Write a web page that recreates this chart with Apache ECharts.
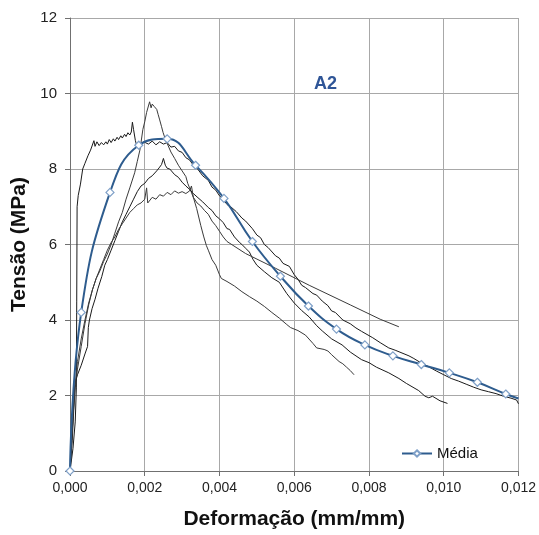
<!DOCTYPE html>
<html>
<head>
<meta charset="utf-8">
<script src="https://cdn.jsdelivr.net/npm/echarts@6/dist/echarts.min.js"></script>
<style>
  html, body { margin: 0; padding: 0; background: #fff; }
  #chart { width: 539px; height: 535px; }
</style>
</head>
<body>
<div id="chart"></div>
<script>
// Axis ticks
const xTicks = [0, 0.002, 0.004, 0.006, 0.008, 0.010, 0.012];
const yTicks = [0, 2, 4, 6, 8, 10, 12];

// Individual specimens: [strain (mm/mm), stress (MPa)]
const specimen1 = [[0,0],[0.00008,0.6],[0.00014,1.3],[0.00017,2.2],[0.00018,4.5],[0.00019,7.0],[0.00022,7.3],[0.00028,7.6],[0.00034,8.0],[0.0004,8.15],[0.00048,8.35],[0.00055,8.5],[0.0006,8.55],[0.00064,8.75],[0.00067,8.6],[0.00072,8.72],[0.00078,8.62],[0.00084,8.7],[0.0009,8.64],[0.00096,8.72],[0.001,8.66],[0.00105,8.78],[0.0011,8.7],[0.00116,8.8],[0.0012,8.74],[0.00126,8.84],[0.0013,8.78],[0.00136,8.88],[0.0014,8.82],[0.00146,8.92],[0.0015,8.86],[0.00155,8.96],[0.0016,8.9],[0.00164,8.98],[0.00167,9.24],[0.0017,9.05],[0.00175,8.75],[0.00179,8.6],[0.00185,8.68],[0.0019,8.62],[0.00197,8.72],[0.0021,8.66],[0.0022,8.74],[0.0023,8.64],[0.0024,8.72],[0.0025,8.66],[0.0026,8.7],[0.0027,8.58],[0.0028,8.6],[0.0029,8.48],[0.003,8.44],[0.0031,8.3],[0.0032,8.24],[0.0033,8.1],[0.0034,8.02],[0.00355,7.82],[0.0037,7.7],[0.0038,7.52],[0.0039,7.44],[0.004,7.29],[0.0041,7.2],[0.0042,7.06],[0.0043,7.0],[0.00445,6.87],[0.0046,6.7],[0.0047,6.62],[0.00488,6.42],[0.005,6.25],[0.0051,6.18],[0.0052,6.0],[0.0053,5.92],[0.0055,5.7],[0.0056,5.64],[0.0057,5.5],[0.00587,5.42],[0.006,5.2],[0.0061,5.08],[0.0062,4.92],[0.0063,4.86],[0.0065,4.7],[0.0066,4.66],[0.00675,4.5],[0.0069,4.38],[0.007,4.24],[0.0071,4.2],[0.0073,4.0],[0.0075,3.9],[0.00765,3.79],[0.0078,3.7],[0.0081,3.53],[0.0083,3.4],[0.00853,3.26],[0.0087,3.2],[0.00907,3.05],[0.0092,2.98],[0.0094,2.86],[0.0096,2.76],[0.0098,2.65],[0.01,2.55],[0.0102,2.45],[0.0104,2.38],[0.0106,2.3],[0.0108,2.22],[0.011,2.15],[0.0112,2.1],[0.0114,2.05],[0.0116,1.98],[0.0118,1.93],[0.01195,1.88],[0.012,1.78]];

const specimen2 = [[0,0],[0.00006,0.8],[0.0001,1.6],[0.00014,2.2],[0.0002,2.7],[0.0003,3.3],[0.0004,3.9],[0.0005,4.4],[0.0006,4.8],[0.0007,5.1],[0.0008,5.3],[0.0009,5.55],[0.001,5.75],[0.0011,6.0],[0.0012,6.3],[0.00125,6.35],[0.0013,6.6],[0.0014,6.85],[0.0015,7.2],[0.0016,7.5],[0.00173,7.9],[0.0018,8.2],[0.00187,8.5],[0.0019,8.7],[0.00195,9.05],[0.002,9.25],[0.00205,9.5],[0.0021,9.55],[0.00213,9.78],[0.00217,9.62],[0.0022,9.72],[0.00225,9.66],[0.00232,9.58],[0.00236,9.44],[0.0024,9.3],[0.00245,9.12],[0.00249,8.97],[0.00254,8.82],[0.00259,8.7],[0.0027,8.45],[0.0028,8.28],[0.0029,8.1],[0.003,7.95],[0.0031,7.8],[0.00315,7.62],[0.0032,7.5],[0.0033,7.25],[0.00339,6.95],[0.0035,6.5],[0.00358,6.2],[0.00365,5.97],[0.0037,5.85],[0.0038,5.6],[0.0039,5.45],[0.004,5.2],[0.00405,5.1],[0.0042,5.02],[0.0044,4.9],[0.0046,4.75],[0.0048,4.62],[0.005,4.5],[0.0052,4.36],[0.0054,4.2],[0.0056,4.05],[0.0058,3.88],[0.0059,3.8],[0.0061,3.72],[0.0063,3.6],[0.0065,3.38],[0.0066,3.26],[0.0068,3.22],[0.0069,3.18],[0.007,3.08],[0.0072,2.9],[0.0073,2.84],[0.0074,2.75],[0.0075,2.66],[0.0076,2.55]];

const specimen3 = [[0,0],[0.00006,1.0],[0.0001,1.8],[0.00013,2.3],[0.0002,2.55],[0.0003,2.8],[0.0004,3.1],[0.00047,3.3],[0.00049,3.8],[0.00052,4.0],[0.00059,4.3],[0.00067,4.55],[0.00075,4.84],[0.00085,5.15],[0.00093,5.45],[0.001,5.6],[0.0011,5.85],[0.0012,6.1],[0.0013,6.35],[0.0014,6.6],[0.0015,6.8],[0.0016,7.0],[0.0017,7.2],[0.0018,7.4],[0.0019,7.55],[0.002,7.62],[0.0021,7.75],[0.0022,7.82],[0.00232,7.95],[0.0024,8.05],[0.00245,8.12],[0.0025,8.28],[0.00255,8.1],[0.0026,8.02],[0.00267,8.0],[0.0028,7.85],[0.0029,7.78],[0.003,7.65],[0.0031,7.55],[0.0032,7.46],[0.0033,7.35],[0.0034,7.26],[0.00355,7.13],[0.0037,6.98],[0.0038,6.9],[0.0039,6.76],[0.004,6.68],[0.0041,6.58],[0.0042,6.42],[0.00427,6.4],[0.0044,6.2],[0.00453,6.06],[0.0046,6.0],[0.0047,5.9],[0.0048,5.8],[0.0049,5.6],[0.005,5.45],[0.0052,5.28],[0.0054,5.12],[0.0056,5.0],[0.0058,4.7],[0.006,4.45],[0.0062,4.25],[0.0064,4.08],[0.0066,3.85],[0.00675,3.71],[0.007,3.5],[0.00728,3.34],[0.0075,3.15],[0.0078,2.95],[0.008,2.87],[0.0082,2.75],[0.00853,2.6],[0.0088,2.45],[0.009,2.32],[0.00933,2.13],[0.0095,1.98],[0.00955,2.02],[0.0096,1.94],[0.0097,1.98],[0.0099,1.86],[0.0101,1.79]];

const specimen4 = [[0,0],[0.00005,0.9],[0.0001,1.7],[0.00014,2.3],[0.0002,2.9],[0.0003,3.5],[0.0004,4.0],[0.0005,4.45],[0.0006,4.8],[0.0007,5.1],[0.0008,5.35],[0.0009,5.6],[0.001,5.85],[0.0011,6.05],[0.0012,6.2],[0.0013,6.4],[0.0014,6.55],[0.0015,6.7],[0.0016,6.85],[0.0017,6.95],[0.0018,7.05],[0.0019,7.1],[0.002,7.2],[0.00205,7.5],[0.00208,7.1],[0.0021,7.15],[0.0022,7.25],[0.0023,7.2],[0.0024,7.32],[0.0025,7.28],[0.0026,7.38],[0.0027,7.32],[0.0028,7.42],[0.0029,7.36],[0.003,7.4],[0.0031,7.35],[0.0032,7.42],[0.00325,7.55],[0.0033,7.25],[0.0034,7.1],[0.0035,7.02],[0.0036,6.9],[0.0037,6.8],[0.0038,6.62],[0.0039,6.5],[0.004,6.35],[0.0041,6.2],[0.0042,6.08],[0.0047,5.76],[0.0055,5.37],[0.0064,4.92],[0.0075,4.4],[0.0083,4.02],[0.0088,3.82]];

// Mean curve ("Média")
const meanStrain = [0, 0.0003, 0.00107, 0.00184, 0.0026, 0.00336, 0.00412, 0.00488, 0.00563, 0.00638, 0.00713, 0.00789, 0.00864, 0.0094, 0.01015, 0.0109, 0.01166, 0.012];
const meanStress = [0, 4.2, 7.38, 8.63, 8.8, 8.1, 7.22, 6.08, 5.16, 4.37, 3.76, 3.34, 3.05, 2.82, 2.6, 2.35, 2.04, 1.92];

const FONT = '"Liberation Sans", Arial, sans-serif';
const chart = echarts.init(document.getElementById('chart'), null, { renderer: 'canvas' });

const rawSeries = [specimen1, specimen2, specimen3, specimen4].map((d, i) => ({
  type: 'line',
  data: d,
  showSymbol: false,
  symbol: 'none',
  silent: true,
  lineStyle: { color: i % 2 ? '#3a3a3a' : '#1a1a1a', width: 1 },
  z: 2
}));

const meanData = meanStrain.map((x, i) => {
  const item = { value: [x, meanStress[i]] };
  if (i === meanStrain.length - 1) item.symbol = 'none';
  return item;
});

chart.setOption({
  animation: false,
  backgroundColor: '#fff',
  title: {
    text: 'A2',
    left: 309, top: 70,
    textStyle: { color: '#2F5597', fontSize: 18, fontWeight: 'bold', fontFamily: FONT }
  },
  legend: {
    data: [{ name: 'Média' }],
    left: 396, top: 441,
    itemWidth: 30, itemHeight: 8,
    textStyle: { fontSize: 15, color: '#111', fontFamily: FONT }
  },
  grid: { left: 70, right: 19, top: 18, bottom: 61 },
  xAxis: {
    type: 'value',
    min: xTicks[0], max: xTicks[xTicks.length - 1], interval: 0.002,
    name: 'Deformação (mm/mm)',
    nameLocation: 'middle', nameGap: 38,
    nameTextStyle: { fontSize: 21, fontWeight: 'bold', color: '#111', fontFamily: FONT },
    axisLine: { lineStyle: { color: '#707070', width: 1 } },
    axisTick: { show: true, length: 5, lineStyle: { color: '#707070' } },
    axisLabel: {
      fontSize: 14, color: '#222', fontFamily: FONT, margin: 10,
      formatter: v => v.toFixed(3).replace('.', ',')
    },
    splitLine: { show: true, lineStyle: { color: '#a8a8a8', width: 1 } }
  },
  yAxis: {
    type: 'value',
    min: yTicks[0], max: yTicks[yTicks.length - 1], interval: 2,
    name: 'Tensão (MPa)',
    nameLocation: 'middle', nameGap: 36,
    nameTextStyle: { fontSize: 21, fontWeight: 'bold', color: '#111', fontFamily: FONT },
    axisLine: { show: true, lineStyle: { color: '#707070', width: 1 } },
    axisTick: { show: true, length: 5, lineStyle: { color: '#707070' } },
    axisLabel: { fontSize: 15, color: '#222', fontFamily: FONT, margin: 13 },
    splitLine: { show: true, lineStyle: { color: '#a8a8a8', width: 1 } }
  },
  series: rawSeries.concat([{
    name: 'Média',
    type: 'line',
    data: meanData,
    smooth: 0.45,
    symbol: 'diamond',
    symbolSize: 8,
    showAllSymbol: true,
    lineStyle: { color: '#2E5C8E', width: 2 },
    itemStyle: { color: '#ffffff', borderColor: '#7FA0C8', borderWidth: 1.2 },
    z: 5
  }])
});
</script>
</body>
</html>
